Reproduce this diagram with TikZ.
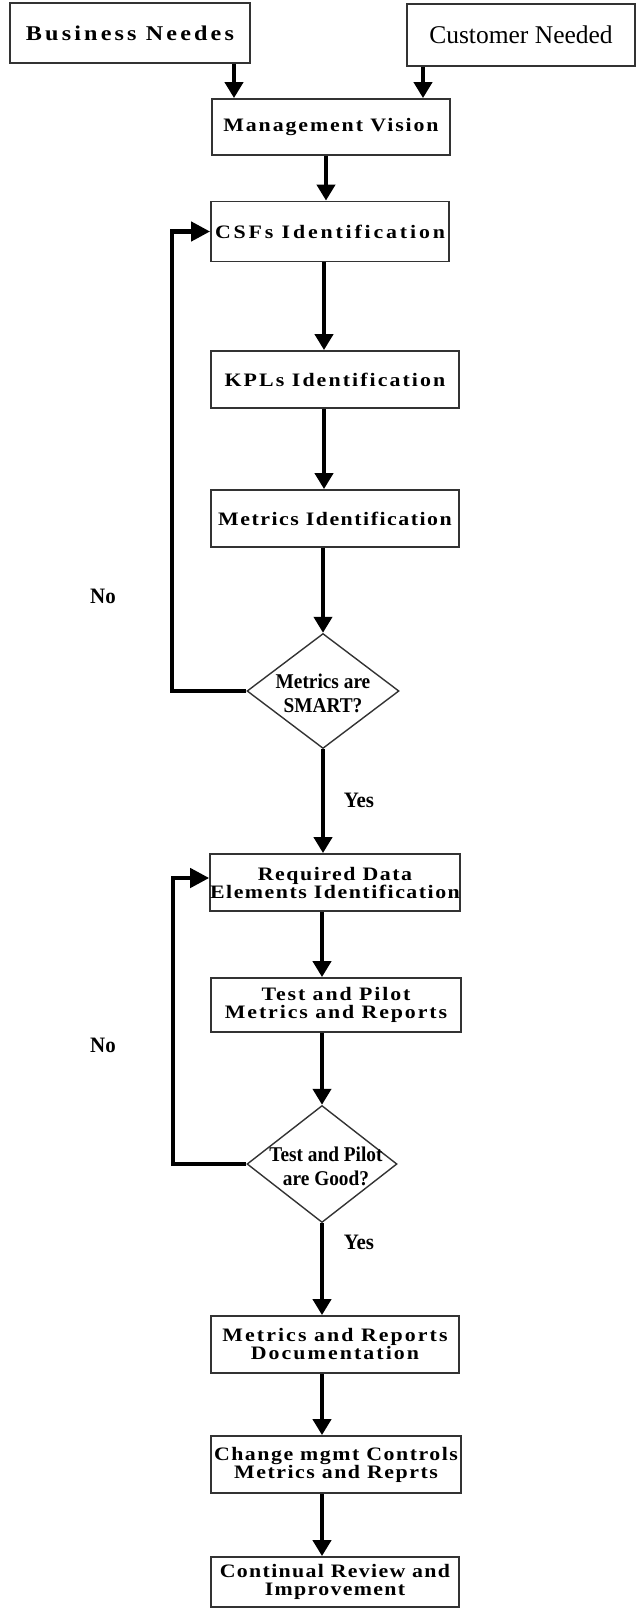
\documentclass[tikz,border=0pt]{standalone}
\usepackage{fontspec}
\setmainfont{Liberation Serif}
\usetikzlibrary{arrows.meta,shapes.geometric}

\begin{document}
\begin{tikzpicture}[x=1pt,y=-1pt,
  boxfont/.style={font=\fontsize{19}{18}\selectfont\bfseries\addfontfeature{FakeStretch=1.15,LetterSpace=#1}},
  stepbox/.style={draw=black!80, line width=1.8pt, rectangle, inner sep=0pt, align=center, boxfont=10},
  decision/.style={diamond, draw=black!80, line width=1.4pt, inner sep=0pt,
    minimum width=152pt, minimum height=115pt},
  dtext/.style={align=center, inner sep=0pt,
    font=\fontsize{21}{24}\selectfont\bfseries\addfontfeature{FakeStretch=0.92}},
  lab/.style={inner sep=0pt, font=\fontsize{22}{24}\selectfont\bfseries\addfontfeature{FakeStretch=0.95}},
  arr/.style={line width=4.5pt, -{Triangle[width=18pt,length=16pt]}},
  loopline/.style={line width=4.3pt, line join=miter, -{Triangle[width=19pt,length=19pt]}}
]
\useasboundingbox (0,0) rectangle (636,1608);

% input boxes
\node[stepbox, minimum width=240pt, minimum height=60pt,
  font=\fontsize{21}{23}\selectfont\bfseries\addfontfeature{FakeStretch=1.15,LetterSpace=15}]
  (biz) at (130,33) {Business Needes};
\node[stepbox, minimum width=228pt, minimum height=62pt,
  font=\fontsize{25.5}{27}\selectfont]
  (cust) at (521,35) {Customer Needed};

% main chain
\node[stepbox, minimum width=238pt, minimum height=56pt] (mv)  at (331,127) {Management Vision};
\node[stepbox, minimum width=238pt, minimum height=60pt, boxfont=15] (csf) at (330,231.5) {CSFs Identification};
\node[stepbox, minimum width=248pt, minimum height=57pt, boxfont=11] (kpl) at (335,379.5) {KPLs Identification};
\node[stepbox, minimum width=248pt, minimum height=57pt, boxfont=8] (met) at (335,518.5) {Metrics Identification};
\node[decision] (d1) at (323,691) {};
\node[dtext] (d1t) at (323,693) {Metrics are\\SMART?};
\node[stepbox, minimum width=248pt, minimum height=57pt, boxfont=8] (req) at (335,882.5) {Required Data\\Elements Identification};
\node[stepbox, minimum width=250pt, minimum height=54pt] (tst) at (336,1005) {Test and Pilot\\Metrics and Reports};
\node[decision, minimum width=150pt, minimum height=117pt] (d2) at (322,1164) {};
\node[dtext] (d2t) at (326,1166) {Test and Pilot\\are Good?};
\node[stepbox, minimum width=248pt, minimum height=57pt, boxfont=11] (doc) at (335,1344.5) {Metrics and Reports\\Documentation};
\node[stepbox, minimum width=250pt, minimum height=57pt, boxfont=8] (chg) at (336,1464.5) {Change mgmt Controls\\Metrics and Reprts};
\node[stepbox, minimum width=248pt, minimum height=50pt, boxfont=7] (cnt) at (335,1582) {Continual Review and\\Improvement};

% branch labels
\node[lab] (no1)  at (103,596)  {No};
\node[lab] (no2)  at (103,1045) {No};
\node[lab] (yes1) at (359,800)  {Yes};
\node[lab] (yes2) at (359,1242) {Yes};

% connector guide points
\coordinate (bx) at (234,0);
\coordinate (cx) at (423,0);
\coordinate (s0) at (326,0);
\coordinate (s1) at (324,0);
\coordinate (s2) at (322,0);
\coordinate (l1) at (172,691);
\coordinate (l2) at (173,1164);
\coordinate (l2t) at (173,878);

% arrows
\draw[arr] (biz.south -| bx) -- (mv.north -| bx);
\draw[arr] (cust.south -| cx) -- (mv.north -| cx);
\draw[arr] (mv.south -| s0) -- (csf.north -| s0);
\draw[arr] (csf.south -| s1) -- (kpl.north -| s1);
\draw[arr] (kpl.south -| s1) -- (met.north -| s1);
\draw[arr] (met.south -| d1) -- (d1.north);
\draw[arr] (d1.south) -- (req.north -| d1);
\draw[arr] (req.south -| s2) -- (tst.north -| s2);
\draw[arr] (tst.south -| d2) -- (d2.north);
\draw[arr] (d2.south) -- (doc.north -| d2);
\draw[arr] (doc.south -| s2) -- (chg.north -| s2);
\draw[arr] (chg.south -| s2) -- (cnt.north -| s2);

% feedback loops
\draw[loopline] (d1.west) -- (l1) |- (csf.west);
\draw[loopline] (d2.west) -- (l2) -- (l2t) -- (req.west |- l2t);
\end{tikzpicture}
\end{document}
